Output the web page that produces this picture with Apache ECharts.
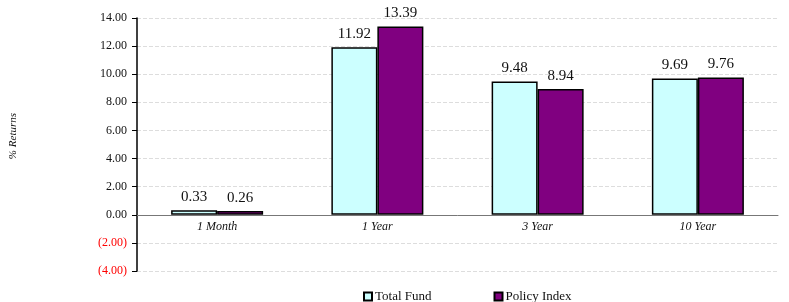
<!DOCTYPE html>
<html><head><meta charset="utf-8">
<script src="https://cdn.jsdelivr.net/npm/echarts@6/dist/echarts.min.js"></script>
<style>html,body{margin:0;padding:0;background:#fff}#c{width:789px;height:302px}</style>
</head><body><div id="c"></div>
<script>
var categories = ['1 Month', '1 Year', '3 Year', '10 Year'];
var totalFund = [0.33, 11.92, 9.48, 9.69];
var policyIndex = [0.26, 13.39, 8.94, 9.76];
var seriesNames = ['Total Fund', 'Policy Index'];

var font = 'Liberation Serif';
var chart = echarts.init(document.getElementById('c'));
function fmt(v){ return v < 0 ? '(' + Math.abs(v).toFixed(2) + ')' : v.toFixed(2); }
var lbl = {show:true, position:'top', distance:6, fontFamily:font, fontSize:15, color:'#111', formatter:function(p){return p.value.toFixed(2);}};
chart.setOption({
  animation:false,
  grid:{left:137, right:11, top:18, bottom:31, containLabel:false},
  legend:{top:285, left:358, itemGap:62, itemWidth:8, itemHeight:8, icon:'rect',
    textStyle:{fontFamily:font, fontSize:13, color:'#111', padding:[0,0,0,-2]},
    data:seriesNames},
  graphic:[{type:'text', left:8, top:113, rotation:Math.PI/2,
    style:{text:'% Returns', font:'italic 11px "Liberation Serif"', fill:'#111'}}],
  xAxis:{type:'category', data:categories,
    axisLine:{onZero:true, lineStyle:{color:'#777', width:1}},
    axisTick:{show:false},
    axisLabel:{fontFamily:font, fontStyle:'italic', fontSize:12, color:'#111', margin:-50}},
  yAxis:{type:'value', min:-4, max:14, interval:2,
    axisLine:{show:true, lineStyle:{color:'#000', width:1.5}},
    axisTick:{show:true, length:5, lineStyle:{color:'#000'}},
    splitLine:{show:true, lineStyle:{color:'#ddd', type:'dashed', width:1}},
    axisLabel:{fontFamily:font, fontSize:12, margin:10,
      formatter:function(v){return fmt(v);},
      color:function(v){return Number(v) < 0 ? '#ff0000' : '#111';}}},
  series:[
    {name:seriesNames[0], type:'bar', data:totalFund, barWidth:46, barGap:'0%',
      itemStyle:{color:'#ccffff', borderColor:'#000', borderWidth:1.5}, label:lbl},
    {name:seriesNames[1], type:'bar', data:policyIndex, barWidth:46,
      itemStyle:{color:'#800080', borderColor:'#000', borderWidth:1.5}, label:lbl}
  ]
});
</script></body></html>
